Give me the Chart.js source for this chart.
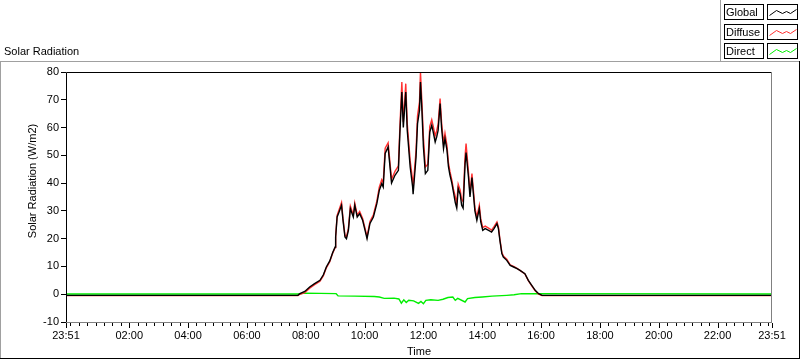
<!DOCTYPE html>
<html>
<head>
<meta charset="utf-8">
<script src="https://cdn.jsdelivr.net/npm/chart.js@4.4.1/dist/chart.umd.min.js"></script>
<style>
  html, body { margin: 0; padding: 0; background: #fff; }
  #wrap { width: 800px; height: 361px; position: relative; }
</style>
</head>
<body>
<div id="wrap"><canvas id="chart" width="800" height="361"></canvas></div>
<script>
// ---- data ----
const chartTitle = 'Solar Radiation';
const yAxisTitle = 'Solar Radiation (W/m2)';
const xAxisTitle = 'Time';
const seriesNames = ['Global', 'Diffuse', 'Direct'];
const startClock = '23:51';
const yTickValues = [-10, 0, 10, 20, 30, 40, 50, 60, 70, 80];
const xTickLabels = ['23:51', '02:00', '04:00', '06:00', '08:00', '10:00', '12:00',
  '14:00', '16:00', '18:00', '20:00', '22:00', '23:51'];

const sampleTimes = ['23:51', '07:44', '07:48', '07:58', '08:08', '08:18', '08:29', '08:36',
  '08:42', '08:49', '08:55', '09:00', '09:01', '09:04', '09:08', '09:13', '09:16', '09:20',
  '09:23', '09:27', '09:31', '09:37', '09:40', '09:45', '09:50', '09:56', '10:01', '10:05',
  '10:11', '10:18', '10:25', '10:30', '10:35', '10:38', '10:42', '10:48', '10:55', '11:02',
  '11:09', '11:12', '11:16', '11:19', '11:24', '11:27', '11:33', '11:38', '11:39', '11:45',
  '11:48', '11:52', '11:54', '11:57', '12:00', '12:04', '12:09', '12:13', '12:17', '12:20',
  '12:24', '12:27', '12:30', '12:34', '12:37', '12:41', '12:44', '12:48', '12:51', '12:54',
  '12:58', '13:01', '13:05', '13:08', '13:11', '13:15', '13:18', '13:21', '13:25', '13:27',
  '13:32', '13:35', '13:39', '13:42', '13:45', '13:49', '13:54', '13:57', '14:01', '14:06',
  '14:13', '14:19', '14:24', '14:30', '14:33', '14:36', '14:40', '14:43', '14:50', '14:57',
  '15:04', '15:11', '15:17', '15:27', '15:34', '15:41', '15:48', '15:55', '16:02', '23:51'];

const globalValues = [-0.4, -0.4, 0.2, 1.0, 2.6, 3.8, 5.0, 7.0,
  9.8, 12, 15, 17, 20.6, 27.8, 29.6, 32, 26.6, 20.6,
  20, 23, 30.8, 27.8, 32, 27.8, 29, 26.6, 23, 20,
  25.5, 27.8, 32.6, 37.4, 39.8, 38.6, 50.7, 53, 40, 42.8,
  44.6, 58, 72.8, 60, 72.8, 59, 45.8, 38.6, 36, 49.4,
  61.4, 66.2, 76.4, 66, 53, 43.4, 44.6, 58.4, 60.8, 58.4,
  54.8, 56.6, 59, 68.6, 60, 52.4, 56, 52, 46, 43,
  40, 37, 33, 31, 38, 36, 32, 31, 47, 51,
  42, 35, 42, 36, 30, 26.6, 30.8, 26, 23, 23.6,
  23, 22.4, 23.6, 25.4, 23.6, 19.4, 14.6, 13.4, 12.2, 10.4,
  9.8, 9.2, 8.6, 7.4, 5, 3.2, 1.4, 0.2, -0.4, -0.4];

const diffuseValues = [-0.5, -0.5, 0.0, 0.6, 2.2, 3.4, 4.7, 6.7,
  9.5, 11.7, 14.8, 16.8, 20.8, 28.4, 30.4, 33, 27.3, 21.2,
  20.6, 23.7, 31.7, 28.5, 32.8, 28.5, 29.8, 27.3, 23.7, 20.7,
  26.2, 28.6, 33.5, 38.5, 41.2, 40, 52.6, 54.5, 41.4, 44.2,
  46.2, 60, 76.4, 62, 75.8, 61.5, 48, 41, 38.3, 51.8,
  64.2, 69.3, 80, 68.8, 56.4, 45.8, 46.8, 60.4, 62.8, 60.5,
  57, 58.8, 61.2, 70.4, 62, 54.3, 57.9, 53.6, 47.4, 44.3,
  41.1, 38, 35.2, 32.7, 39.6, 37.5, 34, 33.4, 49.8, 54.2,
  43.7, 36.5, 43.4, 37.3, 31.2, 27.8, 32, 27.1, 24, 24.5,
  23.8, 23.1, 24.3, 26, 24.2, 19.9, 15, 13.8, 12.6, 10.6,
  10, 9.3, 8.6, 7.3, 4.9, 3.0, 1.2, 0.0, -0.5, -0.5];

const directTimes = ['23:51', '07:44', '07:58', '08:30', '09:02', '09:06', '09:40', '10:20',
  '10:30', '10:40', '11:00', '11:10', '11:15', '11:20', '11:25', '11:30', '11:40', '11:50',
  '11:55', '12:00', '12:05', '12:15', '12:30', '12:40', '12:50', '13:00', '13:05', '13:10',
  '13:25', '13:30', '13:45', '14:00', '14:20', '14:50', '15:05', '15:20', '23:51'];
const directValues = [0.1, 0.1, 0.4, 0.3, 0.2, -0.6, -0.7, -0.8,
  -1.0, -1.5, -1.4, -1.7, -3.2, -2.0, -3.0, -2.2, -2.4, -3.3,
  -2.6, -3.4, -2.2, -2.0, -2.2, -1.8, -1.2, -1.0, -2.2, -1.5,
  -2.8, -1.6, -1.2, -1.0, -0.7, -0.4, -0.2, 0.2, 0.1];

// ---- helpers ----
const FONT = "'Liberation Sans', Arial, sans-serif";
const toMin = s => { const [h, m] = s.split(':').map(Number); return h * 60 + m; };
const startMin = toMin(startClock);
function hoursFromStart(clock, idx) {
  let d = (toMin(clock) - startMin + 1440) % 1440;
  if (d === 0 && idx > 0) d = 1440;
  return d / 60;
}
const toPoints = (times, vals) => times.map((t, i) => ({ x: hoursFromStart(t, i), y: vals[i] }));

const majorTicks = xTickLabels.map((l, i) => hoursFromStart(l, i));
const minorStep = 2 / 7;
const minorTicks = [];
for (let v = majorTicks[0] + (majorTicks[1] - 2); v < 24; v += minorStep) {
  if (v > 0.01 && !majorTicks.some(m => Math.abs(m - v) < 0.02)) minorTicks.push(v);
}
const allXTicks = majorTicks.concat(minorTicks).sort((a, b) => a - b);
const labelFor = v => {
  const i = majorTicks.findIndex(m => Math.abs(m - v) < 0.001);
  return i >= 0 ? xTickLabels[i] : '';
};

function hline(ctx, x1, x2, y, c) { ctx.strokeStyle = c; ctx.beginPath(); ctx.moveTo(x1, y); ctx.lineTo(x2, y); ctx.stroke(); }
function vline(ctx, x, y1, y2, c) { ctx.strokeStyle = c; ctx.beginPath(); ctx.moveTo(x, y1); ctx.lineTo(x, y2); ctx.stroke(); }

const panelPlugin = {
  id: 'panel',
  beforeDraw(chart) {
    const { ctx, width, height } = chart;
    ctx.save();
    ctx.fillStyle = '#fff';
    ctx.fillRect(0, 0, width, height);
    ctx.restore();
  },
  afterDraw(chart) {
    const { ctx, chartArea: a } = chart;
    const xs = chart.scales.x;
    ctx.save();
    ctx.lineWidth = 1;

    // outer frame
    hline(ctx, 0, 800, 61.5, '#a0a0a0');
    vline(ctx, 0.5, 61, 359, '#a0a0a0');
    hline(ctx, 0, 800, 358.5, '#000');
    vline(ctx, 799.5, 61, 359, '#000');
    vline(ctx, 720.5, 0, 61, '#a0a0a0');

    // plot frame
    const L = Math.round(a.left) + 0.5, R = Math.round(a.right) - 0.5;
    const T = Math.round(a.top) + 0.5, B = Math.round(a.bottom) + 0.5;
    hline(ctx, L, R, T, '#000');
    vline(ctx, L, T, B, '#000');
    hline(ctx, L, R + 0.5, B, '#808080');
    vline(ctx, R, T, B, '#808080');

    // x tick marks
    allXTicks.forEach(v => {
      const px = Math.round(xs.getPixelForValue(v)) + 0.5;
      const len = labelFor(v) ? 5 : 3;
      vline(ctx, px, B + 0.5, B + 0.5 + len, '#000');
    });

    // titles
    ctx.fillStyle = '#000';
    ctx.font = '11px ' + FONT;
    ctx.textBaseline = 'middle';
    ctx.textAlign = 'left';
    ctx.fillText(chartTitle, 4, 52);

    ctx.save();
    ctx.translate(33, 181);
    ctx.rotate(-Math.PI / 2);
    ctx.textAlign = 'center';
    ctx.fillText(yAxisTitle, 0, 0);
    ctx.restore();

    // legend
    const zig = [[2, 11], [9, 6], [15, 9], [19, 7], [23, 9], [29, 5]];
    chart.data.datasets.forEach((ds, i) => {
      const top = 4 + Math.round(i * 19.5);
      ctx.lineWidth = 1;
      ctx.strokeStyle = '#000';
      ctx.strokeRect(724.5, top + 0.5, 39, 15);
      ctx.strokeRect(767.5, top + 0.5, 30, 15);
      ctx.fillStyle = '#000';
      ctx.textAlign = 'left';
      ctx.fillText(ds.label, 726, top + 8.5);
      ctx.strokeStyle = ds.borderColor;
      ctx.beginPath();
      zig.forEach(([zx, zy], k) => {
        const px = 767.5 + zx, py = top + zy + 0.5;
        k ? ctx.lineTo(px, py) : ctx.moveTo(px, py);
      });
      ctx.stroke();
    });
    ctx.restore();
  }
};

const colors = ['#000000', '#ff3030', '#00ee00'];
const seriesData = [
  toPoints(sampleTimes, globalValues),
  toPoints(sampleTimes, diffuseValues),
  toPoints(directTimes, directValues)
];

new Chart(document.getElementById('chart'), {
  type: 'line',
  data: {
    datasets: seriesNames.map((name, i) => ({
      label: name,
      data: seriesData[i],
      borderColor: colors[i],
      borderWidth: 1.4,
      pointRadius: 0,
      tension: 0,
      fill: false
    }))
  },
  options: {
    responsive: false,
    animation: false,
    layout: { padding: { left: 0, top: 72, right: 28, bottom: 0 } },
    plugins: { legend: { display: false }, tooltip: { enabled: false } },
    scales: {
      x: {
        type: 'linear',
        min: 0,
        max: 24,
        afterBuildTicks: s => { s.ticks = allXTicks.map(v => ({ value: v })); },
        afterFit: s => { s.height = 39; },
        grid: { display: false, tickLength: 5 },
        border: { display: false },
        ticks: {
          autoSkip: false,
          maxRotation: 0,
          padding: 2,
          color: '#000',
          font: { family: FONT, size: 11 },
          callback: v => labelFor(v)
        },
        title: {
          display: true,
          text: xAxisTitle,
          color: '#000',
          font: { family: FONT, size: 11 },
          padding: { top: 0, bottom: 2 }
        }
      },
      y: {
        min: -10,
        max: 80,
        afterBuildTicks: s => { s.ticks = yTickValues.map(v => ({ value: v })); },
        afterFit: s => { s.width = 66; },
        grid: { drawOnChartArea: false, drawTicks: true, tickLength: 5, color: '#000', tickColor: '#000' },
        border: { display: false },
        ticks: {
          padding: 2,
          color: '#000',
          font: { family: FONT, size: 11 }
        }
      }
    }
  },
  plugins: [panelPlugin]
});
</script>
</body>
</html>
